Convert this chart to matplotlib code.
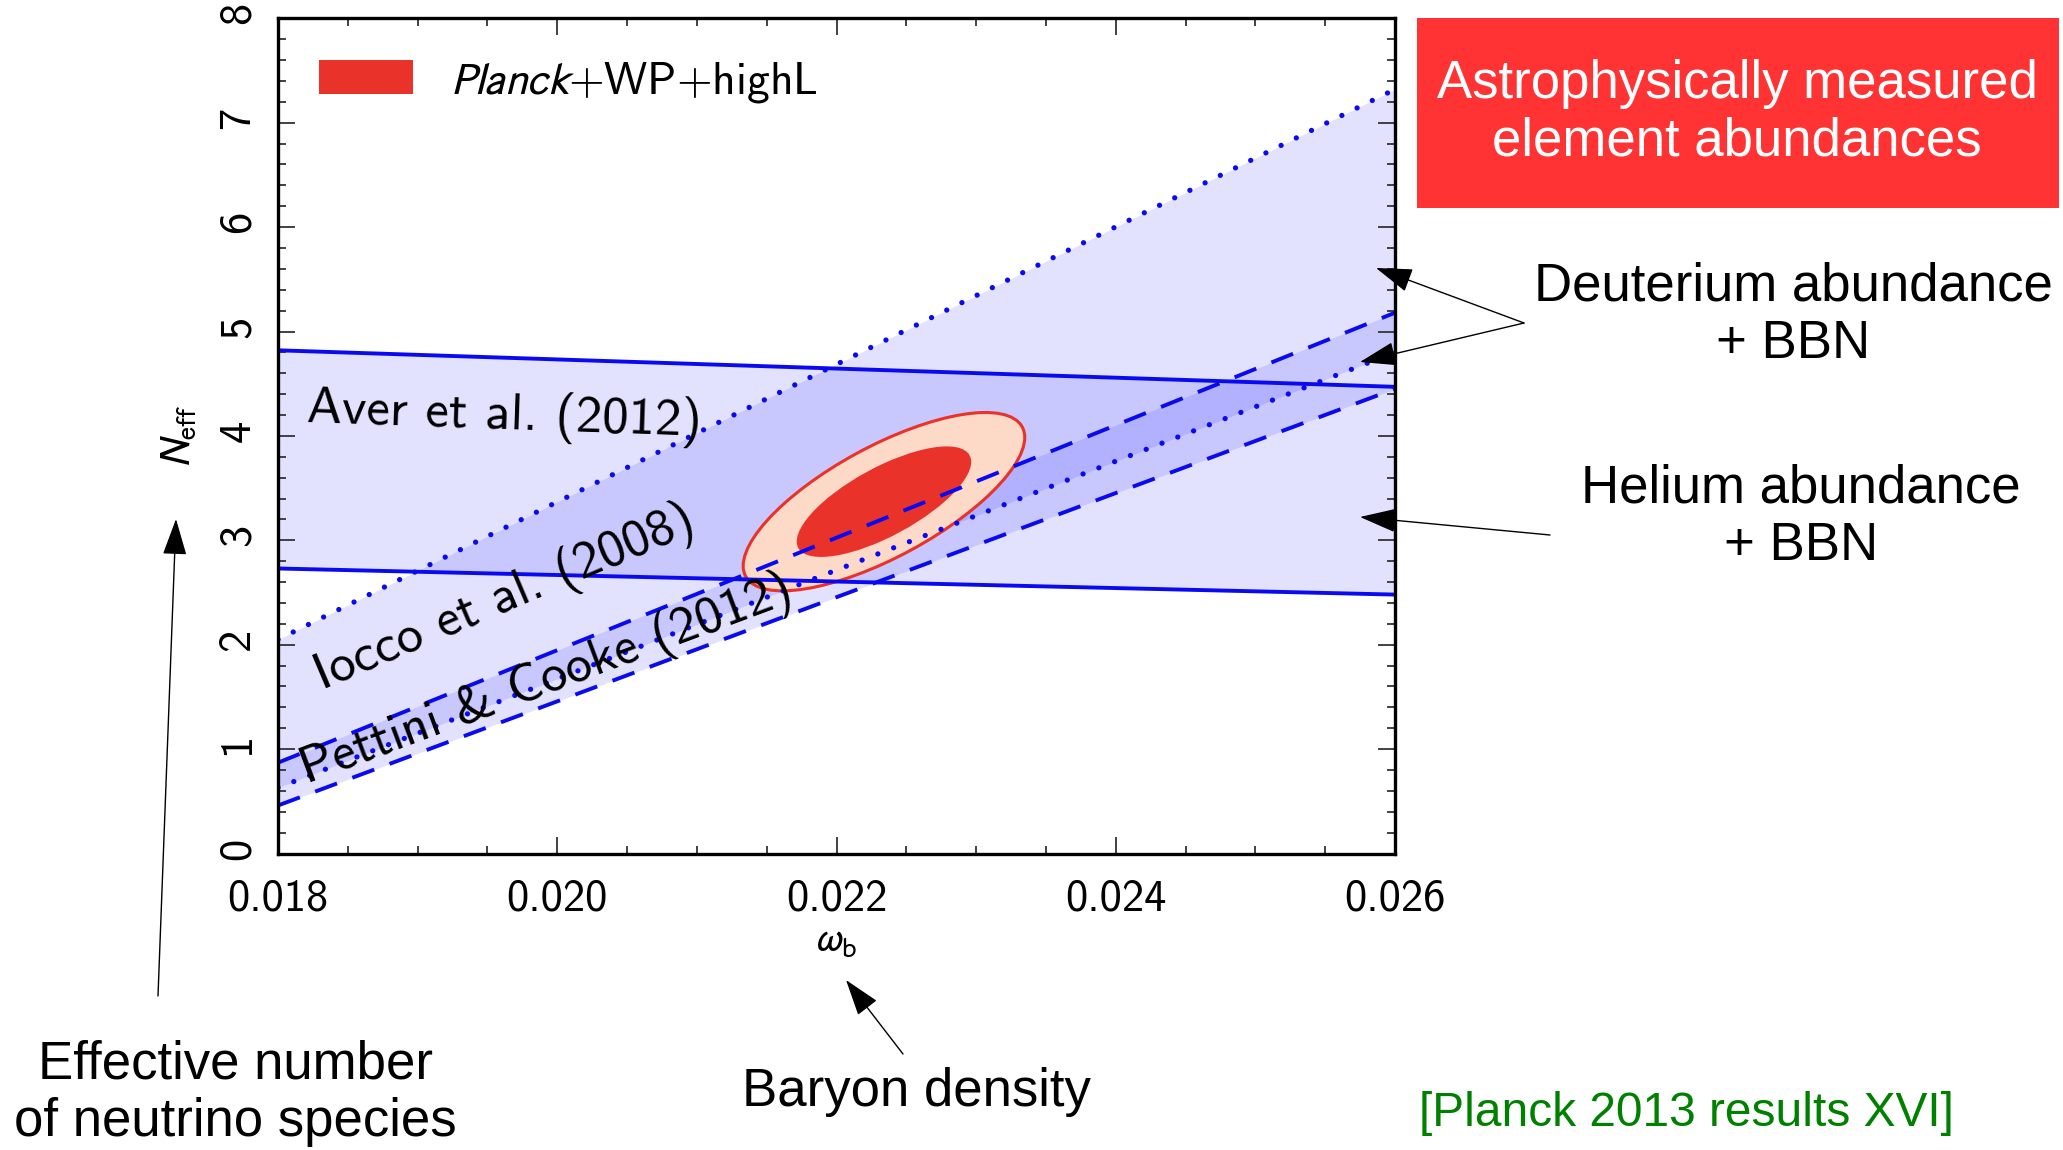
import numpy as np
import matplotlib.pyplot as plt
from matplotlib.patches import Patch, Circle, Rectangle
from matplotlib.transforms import Affine2D
from matplotlib.ticker import MultipleLocator

plt.rcParams['font.family'] = ['cmss10', 'DejaVu Sans']
plt.rcParams['mathtext.fontset'] = 'stixsans'

# band edges, read at omega_b = 0.018 and 0.026
omega_edges = [0.018, 0.026]
aver_low = [2.73, 2.48]
aver_high = [4.82, 4.47]
iocco_low = [0.63, 4.80]
iocco_high = [2.05, 7.32]
pettini_low = [0.46, 4.45]
pettini_high = [0.87, 5.18]

# Planck+WP+highL contour (centre, sigmas, correlation, delta chi2 of 68/95%)
planck_center = [0.02234, 3.37]
planck_sigma = [0.000412, 0.349]
planck_rho = 0.72
planck_levels = [5.99, 2.30]

xticks = [0.018, 0.020, 0.022, 0.024, 0.026]
xtick_labels = ['0.018', '0.020', '0.022', '0.024', '0.026']
yticks = [0, 1, 2, 3, 4, 5, 6, 7, 8]
ytick_labels = ['0', '1', '2', '3', '4', '5', '6', '7', '8']

W, H = 2063, 1150
fig = plt.figure(figsize=(W / 100, H / 100), dpi=100)
ax = fig.add_axes([278 / W, 1 - 853.5 / H, (1395 - 278) / W, (853.5 - 18.3) / H])

band_alpha = 0.115
ax.fill_between(omega_edges, aver_low, aver_high, color='blue', alpha=band_alpha, lw=0, zorder=1)
ax.fill_between(omega_edges, iocco_low, iocco_high, color='blue', alpha=band_alpha, lw=0, zorder=1)
ax.fill_between(omega_edges, pettini_low, pettini_high, color='blue', alpha=band_alpha, lw=0, zorder=1)

# contours
cx, cy = planck_center
sx, sy = planck_sigma
contour_colors = ['#fdd9c8', '#e8322a']
for level, fc in zip(planck_levels, contour_colors):
    r = np.sqrt(level)
    m = np.array([[r * sx, 0, cx],
                  [r * sy * planck_rho, r * sy * np.sqrt(1 - planck_rho ** 2), cy],
                  [0, 0, 1]])
    ec = '#e8322a' if level > 3 else 'none'
    ax.add_patch(Circle((0, 0), 1, transform=Affine2D(m) + ax.transData,
                        fc=fc, ec=ec, lw=2.2, zorder=3))

blue = '#0a0af0'
ax.plot(omega_edges, aver_low, color=blue, lw=2.8, zorder=4)
ax.plot(omega_edges, aver_high, color=blue, lw=2.8, zorder=4)
for ys in (iocco_low, iocco_high):
    ax.plot(omega_edges, ys, color=blue, lw=3.8, ls=(0, (0.01, 3.2)),
            dash_capstyle='round', zorder=4)
for ys in (pettini_low, pettini_high):
    ax.plot(omega_edges, ys, color=blue, lw=2.8, ls=(0, (6.0, 4.2)), zorder=4)

ax.text(0.018206, 4.136, 'Aver et al. (2012)', rotation=-2, rotation_mode='anchor',
        ha='left', va='baseline', fontsize=38, zorder=6)
ax.text(0.018313, 1.566, 'Iocco et al. (2008)', rotation=23, rotation_mode='anchor',
        ha='left', va='baseline', fontsize=38, zorder=6)
ax.text(0.018206, 0.666, 'Pettini & Cooke (2012)', rotation=20.5, rotation_mode='anchor',
        ha='left', va='baseline', fontsize=38, zorder=6)

ax.set_xlim(0.018, 0.026)
ax.set_ylim(0, 8)
ax.set_xticks(xticks)
ax.set_xticklabels(xtick_labels)
ax.set_yticks(yticks)
ax.set_yticklabels(ytick_labels)
ax.xaxis.set_minor_locator(MultipleLocator(0.0005))
ax.yaxis.set_minor_locator(MultipleLocator(0.2))
ax.tick_params(which='both', direction='in', top=True, right=True, color='#333333', width=1.3)
ax.tick_params(which='major', length=12, labelsize=32)
ax.tick_params(which='minor', length=6)
ax.tick_params(axis='x', pad=18)
ax.tick_params(axis='y', pad=14, labelrotation=90)
for s in ax.spines.values():
    s.set_linewidth(2.4)
    s.set_zorder(7)

ax.set_xlabel(r'$\omega_{\rm b}$', fontsize=30, labelpad=2)
ax.set_ylabel(r'$N_{\rm eff}$', fontsize=30, labelpad=14)

ax.legend(handles=[Patch(facecolor='#e8322a', edgecolor='none', label=r'$\mathit{Planck}$+WP+highL')],
          loc='upper left', frameon=False, fontsize=33, handlelength=2.05, handleheight=0.75,
          handletextpad=0.8, borderpad=0.4, borderaxespad=0.5)

# annotations around the plot
fig.add_artist(Rectangle((1417 / W, 1 - 208 / H), (2059 - 1417) / W, (208 - 18) / H,
                         transform=fig.transFigure, fc='#ff3333', ec='none'))
tf = dict(ha='center', va='center', fontsize=38, family='Liberation Sans', linespacing=1.2)
fig.text(1737 / W, 1 - 113 / H, 'Astrophysically measured\nelement abundances', color='white', **tf)
fig.text(1793 / W, 1 - 315 / H, 'Deuterium abundance\n+ BBN', color='black', **tf)
fig.text(1801 / W, 1 - 517 / H, 'Helium abundance\n+ BBN', color='black', **tf)
fig.text(235 / W, 1 - 1093 / H, 'Effective number\nof neutrino species', color='black', **tf)
fig.text(916 / W, 1 - 1092 / H, 'Baryon density', color='black', **tf)
fig.text(1686 / W, 1 - 1113 / H, '[Planck 2013 results XVI]', color='#008000',
         ha='center', va='center', fontsize=34.5, family='Liberation Sans')


def arrow(tail, tip):
    ax.annotate('', xy=(tip[0], H - tip[1]), xytext=(tail[0], H - tail[1]),
                xycoords='figure pixels', textcoords='figure pixels', annotation_clip=False,
                arrowprops=dict(arrowstyle='-|>,head_length=1.15,head_width=0.38', mutation_scale=20,
                                color='black', lw=1.0, shrinkA=0, shrinkB=0, clip_on=False),
                zorder=10)


arrow((1524, 323), (1376, 268))
arrow((1524, 323), (1360, 362))
arrow((1550, 535), (1360, 517))
arrow((158, 996), (176, 519))
arrow((903, 1054), (846, 980))

fig.savefig('out.png', dpi=100)
